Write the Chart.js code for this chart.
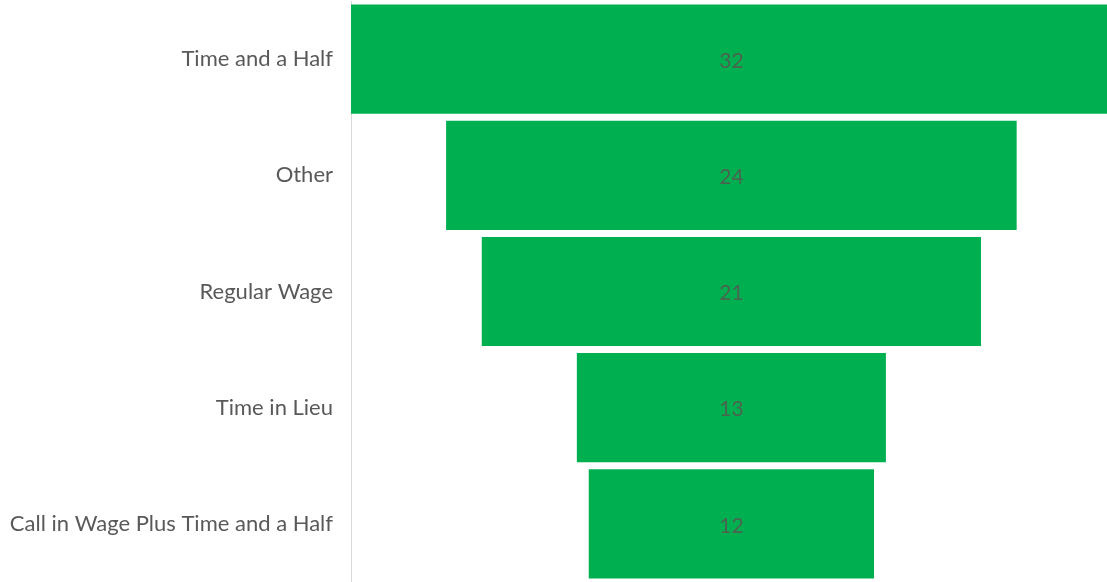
<!DOCTYPE html>
<html>
<head>
<meta charset="utf-8">
<script src="https://cdn.jsdelivr.net/npm/chart.js@4.4.0/dist/chart.umd.min.js"></script>
<style>
  html, body { margin: 0; padding: 0; background: #ffffff; }
  #wrap { width: 1107px; height: 582px; position: relative; }
</style>
</head>
<body>
<div id="wrap"><canvas id="funnel"></canvas></div>
<script>
// Funnel data
const categories = ['Time and a Half', 'Other', 'Regular Wage', 'Time in Lieu', 'Call in Wage Plus Time and a Half'];
const counts = [32, 24, 21, 13, 12];

// Centered bars: each bar spans [-v/2, v/2]
const spans = counts.map(v => [-v / 2, v / 2]);

const fontFamily = 'Lato, "Open Sans", sans-serif';

// Value labels in the middle of each bar
const centerLabels = {
    id: 'centerLabels',
    afterDatasetsDraw(chart) {
        const ctx = chart.ctx;
        const meta = chart.getDatasetMeta(0);
        const xScale = chart.scales.x;
        ctx.save();
        ctx.font = '21px ' + fontFamily;
        ctx.fillStyle = '#4a6450';
        ctx.textAlign = 'center';
        ctx.textBaseline = 'middle';
        meta.data.forEach((bar, i) => {
            ctx.fillText(String(counts[i]), xScale.getPixelForValue(0), bar.y + 2);
        });
        ctx.restore();
    }
};

new Chart(document.getElementById('funnel'), {
    type: 'bar',
    data: {
        labels: categories,
        datasets: [{
            data: spans,
            backgroundColor: '#00b050',
            borderWidth: 0,
            barPercentage: 0.94,
            categoryPercentage: 1
        }]
    },
    options: {
        indexAxis: 'y',
        responsive: true,
        maintainAspectRatio: false,
        animation: false,
        layout: { padding: { top: 1, bottom: 0, left: 0, right: 0 } },
        plugins: {
            legend: { display: false },
            tooltip: { enabled: false }
        },
        scales: {
            x: {
                display: false,
                min: -16,
                max: 15.8
            },
            y: {
                grid: { display: false, drawTicks: false },
                border: { display: true, color: '#d9d9d9', width: 1 },
                ticks: {
                    color: '#595959',
                    padding: 18,
                    font: { family: fontFamily, size: 22 }
                },
                afterFit(scale) {
                    scale.width = 351;
                    scale.paddingTop = 0;
                    scale.paddingBottom = 0;
                }
            }
        }
    },
    plugins: [centerLabels]
});
</script>
</body>
</html>
